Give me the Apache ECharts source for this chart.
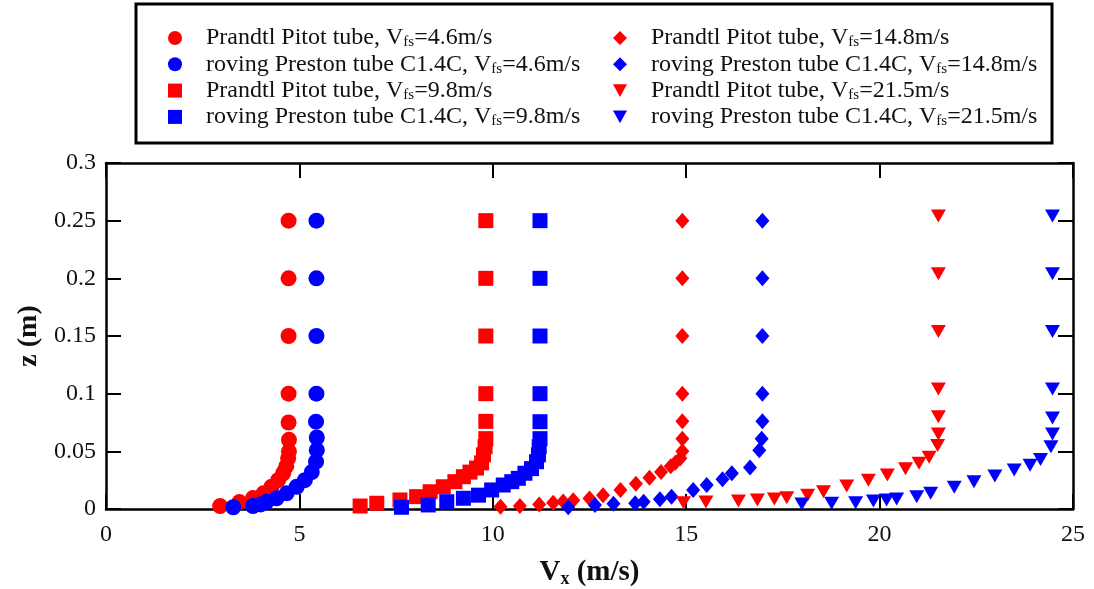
<!DOCTYPE html>
<html><head><meta charset="utf-8">
<script src="https://cdn.jsdelivr.net/npm/echarts@6/dist/echarts.min.js"></script>
<style>html,body{margin:0;padding:0;background:#fff}#c{width:1094px;height:589px}</style>
</head><body><div id="c"></div>
<script>
// ---- data: [Vx (m/s), z (m)] ----
const pitot46 = [[2.95,0.0025],[3.45,0.006],[3.8,0.0095],[4.07,0.0136],[4.28,0.0193],[4.45,0.025],[4.58,0.031],[4.66,0.037],[4.71,0.044],[4.73,0.05],[4.73,0.06],[4.72,0.075],[4.72,0.1],[4.72,0.15],[4.72,0.2],[4.72,0.25]];
const preston46 = [[3.29,0.0015],[3.8,0.0025],[4.0,0.004],[4.15,0.0063],[4.41,0.0093],[4.67,0.0136],[4.93,0.0193],[5.14,0.025],[5.32,0.032],[5.43,0.041],[5.45,0.051],[5.45,0.062],[5.43,0.0757],[5.44,0.1],[5.44,0.15],[5.44,0.2],[5.44,0.25]];
const pitot98 = [[6.57,0.0026],[7.0,0.005],[7.6,0.0078],[8.03,0.0107],[8.38,0.015],[8.72,0.0193],[9.02,0.0237],[9.24,0.028],[9.41,0.032],[9.58,0.0355],[9.71,0.04],[9.76,0.047],[9.8,0.054],[9.82,0.061],[9.82,0.076],[9.82,0.1],[9.82,0.15],[9.82,0.2],[9.82,0.25]];
const preston98 = [[7.64,0.0015],[8.33,0.0035],[8.81,0.0063],[9.24,0.0093],[9.63,0.012],[9.97,0.0165],[10.27,0.0208],[10.49,0.0237],[10.66,0.0266],[10.83,0.031],[11.0,0.035],[11.13,0.041],[11.18,0.047],[11.2,0.054],[11.22,0.061],[11.22,0.0757],[11.22,0.1],[11.22,0.15],[11.22,0.2],[11.22,0.25]];
const pitot148 = [[10.2,0.002],[10.7,0.0025],[11.2,0.004],[11.56,0.0055],[11.82,0.0065],[12.08,0.0075],[12.5,0.009],[12.85,0.012],[13.3,0.0165],[13.7,0.022],[14.05,0.027],[14.35,0.032],[14.6,0.037],[14.72,0.04],[14.85,0.044],[14.9,0.05],[14.9,0.061],[14.9,0.076],[14.9,0.1],[14.9,0.15],[14.9,0.2],[14.9,0.25]];
const preston148 = [[11.95,0.0015],[12.64,0.0035],[13.12,0.0045],[13.68,0.005],[13.9,0.0063],[14.32,0.0084],[14.62,0.0107],[15.18,0.0165],[15.53,0.0208],[15.94,0.0257],[16.18,0.031],[16.65,0.036],[16.89,0.051],[16.95,0.061],[16.97,0.076],[16.97,0.1],[16.97,0.15],[16.97,0.2],[16.97,0.25]];
const pitot215 = [[14.93,0.0055],[15.51,0.006],[16.35,0.007],[16.84,0.0078],[17.28,0.0087],[17.6,0.0098],[18.14,0.012],[18.55,0.015],[19.15,0.02],[19.71,0.025],[20.2,0.0295],[20.67,0.035],[21.02,0.0396],[21.28,0.0448],[21.5,0.055],[21.52,0.065],[21.52,0.08],[21.52,0.104],[21.52,0.154],[21.52,0.204],[21.52,0.254]];
const preston215 = [[17.99,0.0043],[18.76,0.005],[19.38,0.0055],[19.84,0.007],[20.18,0.0078],[20.44,0.0087],[20.96,0.0107],[21.32,0.0136],[21.93,0.0188],[22.44,0.0237],[22.98,0.0286],[23.48,0.0338],[23.89,0.038],[24.16,0.043],[24.43,0.054],[24.47,0.065],[24.47,0.079],[24.47,0.104],[24.47,0.154],[24.47,0.204],[24.47,0.254]];

const seriesNames = [
  'Prandtl Pitot tube, Vfs=4.6m/s',
  'roving Preston tube C1.4C, Vfs=4.6m/s',
  'Prandtl Pitot tube, Vfs=9.8m/s',
  'roving Preston tube C1.4C, Vfs=9.8m/s',
  'Prandtl Pitot tube, Vfs=14.8m/s',
  'roving Preston tube C1.4C, Vfs=14.8m/s',
  'Prandtl Pitot tube, Vfs=21.5m/s',
  'roving Preston tube C1.4C, Vfs=21.5m/s'
];
const seriesData = [pitot46, preston46, pitot98, preston98, pitot148, preston148, pitot215, preston215];

const xRange = [0, 25]; const xStep = 5;
const zRange = [0, 0.3]; const zStep = 0.05;

// ---- styles ----
const RED = '#ff0000', BLUE = '#0000ff';
const FONT = 'Liberation Serif';
const TRI = 'path://M0,0L12,0L6,11Z';
const marks = [
  {symbol:'circle', size:16, color:RED},
  {symbol:'circle', size:16, color:BLUE},
  {symbol:'rect', size:15, color:RED},
  {symbol:'rect', size:15, color:BLUE},
  {symbol:'diamond', size:[14,16], color:RED},
  {symbol:'diamond', size:[14,16], color:BLUE},
  {symbol:TRI, size:[15,13], color:RED},
  {symbol:TRI, size:[15,13], color:BLUE}
];

const richLegend = {
  g: {width: 19, fontSize: 24, fontFamily: FONT},
  a: {fontSize: 24, lineHeight: 24, fontFamily: FONT, color: '#111', verticalAlign: 'middle'},
  s: {fontSize: 15, lineHeight: 11, fontFamily: FONT, color: '#111', verticalAlign: 'bottom'}
};
function legendFmt(name) {
  const i = name.indexOf('Vfs');
  return '{g| }{a|' + name.slice(0, i) + 'V}{s|fs}{a|' + name.slice(i + 3) + '}';
}
function makeLegend(names, left) {
  return {
    data: names, orient: 'vertical', left: left, top: 21,
    itemWidth: 14, itemHeight: 14, itemGap: 2.3,
    formatter: legendFmt, textStyle: {rich: richLegend}
  };
}

const axisLineStyle = {color: '#000', width: 2.5};
const tickStyle = {show: true, inside: true, length: 15, lineStyle: {color: '#000', width: 2}};

const option = {
  animation: false,
  backgroundColor: '#fff',
  grid: {left: 106, right: 21, top: 163, bottom: 80, containLabel: false, outerBoundsMode: 'none'},
  legend: [makeLegend(seriesNames.slice(0, 4), 163), makeLegend(seriesNames.slice(4), 608)],
  graphic: [{
    type: 'rect', shape: {x: 136, y: 4, width: 916, height: 139},
    style: {fill: 'none', stroke: '#000', lineWidth: 3}, silent: true, z: 0
  }],
  xAxis: [{
    type: 'value', min: xRange[0], max: xRange[1], interval: xStep,
    splitLine: {show: false},
    axisLine: {show: true, onZero: false, lineStyle: axisLineStyle},
    axisTick: tickStyle,
    axisLabel: {margin: 14, fontSize: 24, fontFamily: FONT, color: '#111'},
    name: '{a|V}{s|x}{a| (m/s)}', nameLocation: 'middle', nameGap: 49,
    nameTextStyle: {rich: {
      a: {fontSize: 29, fontWeight: 'bold', fontFamily: FONT, color: '#111', lineHeight: 30, verticalAlign: 'middle'},
      s: {fontSize: 18, fontWeight: 'bold', fontFamily: FONT, color: '#111', lineHeight: 14, verticalAlign: 'bottom'}
    }}
  }, {
    type: 'value', position: 'top', min: xRange[0], max: xRange[1], interval: xStep,
    splitLine: {show: false}, axisLabel: {show: false},
    axisLine: {show: true, onZero: false, lineStyle: axisLineStyle}, axisTick: tickStyle
  }],
  yAxis: [{
    type: 'value', min: zRange[0], max: zRange[1], interval: zStep,
    splitLine: {show: false},
    axisLine: {show: true, onZero: false, lineStyle: axisLineStyle},
    axisTick: tickStyle,
    axisLabel: {margin: 10, fontSize: 24, fontFamily: FONT, color: '#111'},
    name: 'z (m)', nameLocation: 'middle', nameGap: 62, nameRotate: 90,
    nameTextStyle: {fontSize: 28, fontWeight: 'bold', fontFamily: FONT, color: '#111'}
  }, {
    type: 'value', position: 'right', min: zRange[0], max: zRange[1], interval: zStep,
    splitLine: {show: false}, axisLabel: {show: false},
    axisLine: {show: true, onZero: false, lineStyle: axisLineStyle}, axisTick: tickStyle
  }],
  series: seriesData.map((d, i) => ({
    type: 'scatter', name: seriesNames[i], data: d,
    xAxisIndex: 0, yAxisIndex: 0,
    symbol: marks[i].symbol, symbolSize: marks[i].size,
    itemStyle: {color: marks[i].color, opacity: 1},
    emphasis: {disabled: true}
  }))
};
const chart = echarts.init(document.getElementById('c'), null, {renderer: 'canvas'});
chart.setOption(option);
</script>
</body></html>
